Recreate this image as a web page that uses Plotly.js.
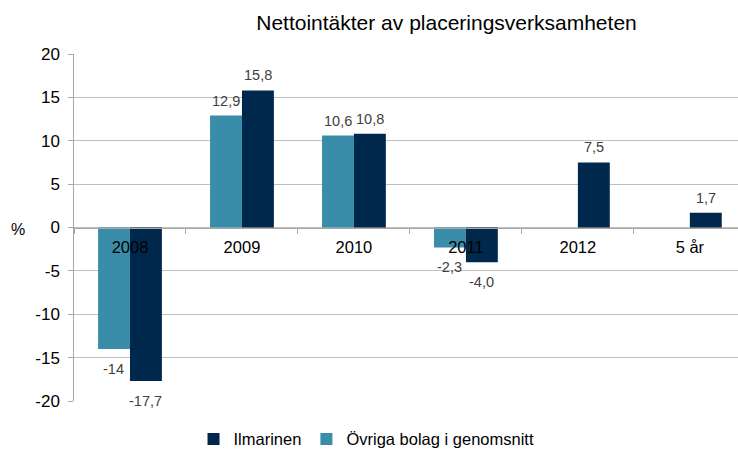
<!DOCTYPE html>
<html>
<head>
<meta charset="utf-8">
<script src="https://cdn.plot.ly/plotly-3.0.1.min.js"></script>
<style>html,body{margin:0;padding:0;background:#fff}#chart{width:738px;height:450px}</style>
</head>
<body>
<div id="chart"></div>
<script>
const categories = ["2008", "2009", "2010", "2011", "2012", "5 år"];
const ovrigaValues = [-14, 12.9, 10.6, -2.3, null, null];
const ovrigaLabels = ["-14", "12,9", "10,6", "-2,3", "", ""];
const ilmarinenValues = [-17.7, 15.8, 10.8, -4.0, 7.5, 1.7];
const ilmarinenLabels = ["-17,7", "15,8", "10,8", "-4,0", "7,5", "1,7"];
const yTicks = [-20, -15, -10, -5, 0, 5, 10, 15, 20];

const font = "Liberation Sans, Arial, sans-serif";
const labelFont = {family: font, size: 14.5, color: "#404040"};

const traces = [
  {
    type: "bar", name: "Övriga bolag i genomsnitt", x: categories, y: ovrigaValues,
    marker: {color: "#3A8DA9"}, hoverinfo: "none"
  },
  {
    type: "bar", name: "Ilmarinen", x: categories, y: ilmarinenValues,
    marker: {color: "#00284C"}, hoverinfo: "none"
  }
];

// value labels, placed from the data through the axes (x = category index)
const annotations = [];
function addLabels(values, labels, xshift) {
  values.forEach((v, i) => {
    if (v === null || labels[i] === "") return;
    annotations.push({
      x: i, y: v, xref: "x", yref: "y", text: labels[i],
      showarrow: false, xanchor: "center", yanchor: "middle",
      xshift: xshift, yshift: v >= 0 ? 15 : -20, font: labelFont
    });
  });
}
addLabels(ovrigaValues, ovrigaLabels, -16);
addLabels(ilmarinenValues, ilmarinenLabels, 16);
annotations.push({text: "%", xref: "paper", yref: "y", x: -0.084, y: 0, xanchor: "center", yanchor: "middle",
  yshift: -2, showarrow: false, font: {family: font, size: 16, color: "#000"}});

const layout = {
  width: 738, height: 450,
  margin: {l: 74, r: 0, t: 54, b: 49, autoexpand: false},
  paper_bgcolor: "#fff", plot_bgcolor: "#fff",
  font: {family: font, size: 16, color: "#000"},
  title: {text: "Nettointäkter av placeringsverksamheten", font: {family: font, size: 21, color: "#000"},
          x: 0.605, xanchor: "center", y: 0.95, yanchor: "middle"},
  barmode: "group", bargap: 0.43, bargroupgap: 0,
  showlegend: true,
  legend: {orientation: "h", traceorder: "reversed", x: 0.18, xanchor: "left", y: -0.11, yanchor: "middle",
           font: {family: font, size: 16.5, color: "#000"}},
  xaxis: {
    type: "category", range: [-0.5, 5.43], anchor: "free", position: 0.5,
    showline: true, linecolor: "#A6A6A6", linewidth: 1,
    ticks: "outside", tickson: "boundaries", ticklen: 5, tickcolor: "#A6A6A6",
    ticklabelstandoff: 5,
    showgrid: false, tickfont: {family: font, size: 16.5, color: "#000"}
  },
  yaxis: {
    range: [-20, 20], tickvals: yTicks, ticktext: yTicks.map(t => String(t) + "\u00a0"),
    showgrid: true, gridcolor: "#BFBFBF", gridwidth: 1, zeroline: false,
    showline: true, linecolor: "#A6A6A6", ticks: "outside", ticklen: 5, tickcolor: "#A6A6A6",
    tickfont: {family: font, size: 17, color: "#000"}
  },
  annotations: annotations
};

Plotly.newPlot("chart", traces, layout, {displayModeBar: false, staticPlot: true});
</script>
</body>
</html>
